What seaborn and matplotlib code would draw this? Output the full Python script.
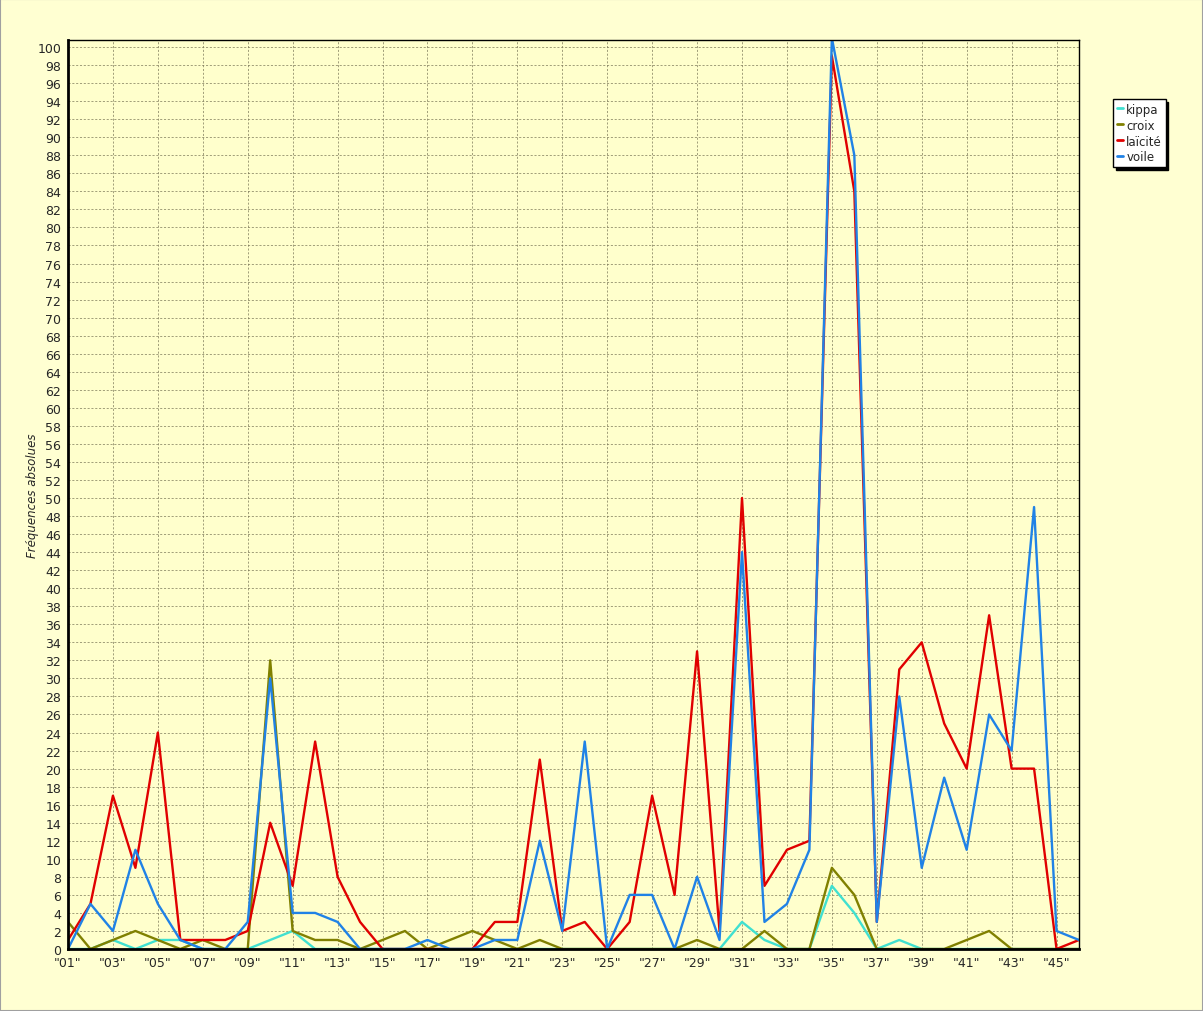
import numpy as np
import pandas as pd
import matplotlib
matplotlib.use("Agg")
import matplotlib.pyplot as plt
import seaborn as sns
from matplotlib.patches import Rectangle

# données (46 périodes)
periodes = list(range(1, 47))
kippa = [0, 0, 1, 0, 1, 1, 0, 0, 0, 1, 2, 0, 0, 0, 0, 0, 0, 0, 0, 0, 0, 0, 0,
         0, 0, 0, 0, 0, 0, 0, 3, 1, 0, 0, 7, 4, 0, 1, 0, 0, 0, 0, 0, 0, 0, 0]
croix = [3, 0, 1, 2, 1, 0, 1, 0, 0, 32, 2, 1, 1, 0, 1, 2, 0, 1, 2, 1, 0, 1, 0,
         0, 0, 0, 0, 0, 1, 0, 0, 2, 0, 0, 9, 6, 0, 0, 0, 0, 1, 2, 0, 0, 0, 0]
laicite = [1, 5, 17, 9, 24, 1, 1, 1, 2, 14, 7, 23, 8, 3, 0, 0, 0, 0, 0, 3, 3, 21, 2,
           3, 0, 3, 17, 6, 33, 2, 50, 7, 11, 12, 99, 84, 3, 31, 34, 25, 20, 37, 20, 20, 0, 1]
voile = [0, 5, 2, 11, 5, 1, 0, 0, 3, 30, 4, 4, 3, 0, 0, 0, 1, 0, 0, 1, 1, 12, 2,
         23, 0, 6, 6, 0, 8, 1, 44, 3, 5, 11, 101, 88, 3, 28, 9, 19, 11, 26, 22, 49, 2, 1]
series = ["kippa", "croix", "laïcité", "voile"]
couleurs = {"kippa": "#40E0D0", "croix": "#808000", "laïcité": "#E00000", "voile": "#2082E6"}
xlabels = ['"%02d"' % i for i in range(1, 46, 2)]

df = pd.DataFrame({
    "periode": periodes * 4,
    "freq": kippa + croix + laicite + voile,
    "serie": sum([[s] * len(periodes) for s in series], []),
})

sns.set_style("white")
plt.rcParams["font.family"] = ["DejaVu Sans"]

fig = plt.figure(figsize=(12.03, 10.12), dpi=100, facecolor="#FFFFD2")
ax = fig.add_axes([68 / 1203, 1 - 950 / 1012, 1011 / 1203, 909 / 1012])
ax.set_facecolor("#FFFFCC")

sns.lineplot(data=df, x="periode", y="freq", hue="serie", hue_order=series,
             palette=couleurs, linewidth=1.7, legend=False, ax=ax)

ax.set_xlim(1, 46)
ax.set_ylim(0, 100.78)
ax.set_yticks(np.arange(0, 101, 2))
ax.set_xticks(range(1, 46, 2))
ax.set_xticklabels(xlabels)
ax.tick_params(axis="both", labelsize=9, length=3, width=0.8, color="black", pad=2)
ax.grid(True, linestyle=(0, (3, 2.5)), linewidth=0.5, color="#7C7858")
ax.set_axisbelow(True)
ax.set_xlabel("")
ax.set_ylabel("Fréquences absolues", fontsize=8.5, style="italic", labelpad=-1)

for side in ["left", "bottom"]:
    ax.spines[side].set_linewidth(2)
for side in ["top", "right"]:
    ax.spines[side].set_linewidth(1)
for sp in ax.spines.values():
    sp.set_color("black")

handles = [plt.Line2D([], [], color=couleurs[s], linewidth=2) for s in series]
leg = ax.legend(handles, series, loc="upper left", bbox_to_anchor=(1.034, 0.935),
                borderaxespad=0, fontsize=8.5, handlelength=0.5, handletextpad=0.3,
                labelspacing=0.25, borderpad=0.3, fancybox=False, framealpha=1,
                edgecolor="black", shadow={"color": "black", "alpha": 1})
leg.get_frame().set_linewidth(1)

# bord gris de la fenêtre
fig.patches.append(Rectangle((0, 0), 1, 1, transform=fig.transFigure, fill=False,
                             edgecolor="#A0A0A0", linewidth=1.5))

fig.savefig("out.png", dpi=100, facecolor=fig.get_facecolor())
